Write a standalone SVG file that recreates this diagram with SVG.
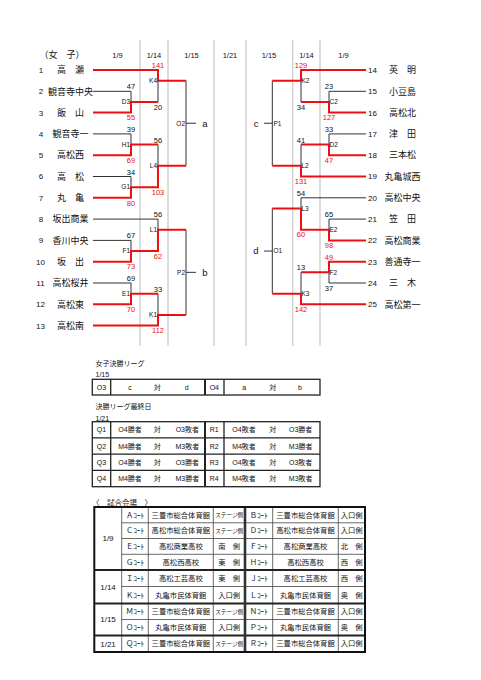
<svg xmlns="http://www.w3.org/2000/svg" width="481" height="680" viewBox="0 0 481 680">
<style>
text{font-family:'Liberation Sans','Noto Sans CJK JP',sans-serif;fill:#111}
.bk{stroke:#333;stroke-width:1;fill:none}
.rd{stroke:#ee1010;stroke-width:2;fill:none}
.gr{stroke:#d2d2d2;stroke-width:1.5}
.h{font-size:7.5px;text-anchor:middle}
.no{font-size:8px;text-anchor:middle}
.nm{font-size:9px;text-anchor:middle;font-family:'Noto Sans CJK JP',sans-serif}
.s{font-size:7.5px;text-anchor:middle}
text.r{fill:#ee1010}
.l{font-size:6.5px}
.e{text-anchor:end}
.g{font-size:9.5px;text-anchor:middle}
.tb{stroke:#222;stroke-width:1.3;fill:none}
.tn{stroke:#444;stroke-width:0.8;fill:none}
.tk{stroke:#222;stroke-width:2;fill:none}
.tt{font-size:7px;text-anchor:middle}
.tl{font-size:7px}
.vt{font-size:7.3px;text-anchor:middle;font-family:'Noto Sans CJK JP',sans-serif}
.st{font-size:5.6px;text-anchor:middle;font-family:'Noto Sans CJK JP',sans-serif}
.dt{font-size:8px;text-anchor:middle}
</style>
<rect width="481" height="680" fill="#fff"/>

<g id="grid">
<path class="gr" d="M140 40V346M168 40V346M214 40V346M246 40V346M292.7 40V346M320 40V346"/>
</g>

<g id="header">
<text x="62" y="58.2" style="font-size:9px;text-anchor:middle;font-family:'Noto Sans CJK JP',sans-serif">（女　子）</text>
<text class="h" x="117.5" y="57.7">1/9</text>
<text class="h" x="154" y="57.7">1/14</text>
<text class="h" x="191.5" y="57.7">1/15</text>
<text class="h" x="230" y="57.7">1/21</text>
<text class="h" x="269" y="57.7">1/15</text>
<text class="h" x="306.5" y="57.7">1/14</text>
<text class="h" x="343.5" y="57.7">1/9</text>
</g>

<g id="connectors">
<path class="bk" d="M93 91.3H131M93 133.9H131M93 176.5H131M93 219.1H158M93 240.4H131M93 283H131
M131 91.3V101.95M131 133.9V144.55M131 176.5V187.15M131 240.4V251.05M131 283V293.65
M158 80.65V101.95M158 144.55V165.85M158 219.1V229.75M158 293.65V314.95
M186 80.65V165.85M186 229.75V314.95M186 123.25H196M186 272.35H196"/>
<path class="bk" d="M366 91.3H329M366 133.9H329M366 197.8H301M366 219.1H329M366 283H329
M329 91.3V101.95M329 133.9V144.55M329 219.1V229.75M329 272.35V283
M301 80.65V101.95M301 144.55V165.85M301 197.8V208.45M301 272.35V293.65
M272.3 80.65V165.85M272.3 208.45V293.65M264 123.25H272.3M264 251.05H272.3"/>
<path class="rd" d="M93 70H158V80.65H186M93 112.6H131V101.95H158M93 155.2H131V144.55H158M93 197.8H131V187.15H158V165.85H186M93 261.7H131V251.05H158V229.75H186M93 304.3H131V293.65H158M93 325.6H158V314.95H186"/>
<path class="rd" d="M366 70H301V80.65H272.3M366 112.6H329V101.95H301M366 155.2H329V144.55H301M366 176.5H301V165.85H272.3M366 240.4H329V229.75H301V208.45H272.3M366 261.7H329V272.35H301M366 304.3H301V293.65H272.3"/>
</g>

<g id="team1"><text class="no" x="41" y="72.9">1</text><text class="nm" x="70.5" y="73.2">高　瀬</text></g>
<g id="team2"><text class="no" x="41" y="94.2">2</text><text class="nm" x="70.5" y="94.5">観音寺中央</text></g>
<g id="team3"><text class="no" x="41" y="115.5">3</text><text class="nm" x="70.5" y="115.8">飯　山</text></g>
<g id="team4"><text class="no" x="41" y="136.8">4</text><text class="nm" x="70.5" y="137.1">観音寺一</text></g>
<g id="team5"><text class="no" x="41" y="158.1">5</text><text class="nm" x="70.5" y="158.4">高松西</text></g>
<g id="team6"><text class="no" x="41" y="179.4">6</text><text class="nm" x="70.5" y="179.7">高　松</text></g>
<g id="team7"><text class="no" x="41" y="200.7">7</text><text class="nm" x="70.5" y="201">丸　亀</text></g>
<g id="team8"><text class="no" x="41" y="222">8</text><text class="nm" x="70.5" y="222.3">坂出商業</text></g>
<g id="team9"><text class="no" x="41" y="243.3">9</text><text class="nm" x="70.5" y="243.6">香川中央</text></g>
<g id="team10"><text class="no" x="40.5" y="264.6">10</text><text class="nm" x="70.5" y="264.9">坂　出</text></g>
<g id="team11"><text class="no" x="40.5" y="285.9">11</text><text class="nm" x="70.5" y="286.2">高松桜井</text></g>
<g id="team12"><text class="no" x="40.5" y="307.2">12</text><text class="nm" x="70.5" y="307.5">高松東</text></g>
<g id="team13"><text class="no" x="40.5" y="328.5">13</text><text class="nm" x="70.5" y="328.8">高松南</text></g>

<g id="team14"><text class="no" x="372.5" y="72.9">14</text><text class="nm" x="402.5" y="73.2">英　明</text></g>
<g id="team15"><text class="no" x="372.5" y="94.2">15</text><text class="nm" x="402.5" y="94.5">小豆島</text></g>
<g id="team16"><text class="no" x="372.5" y="115.5">16</text><text class="nm" x="402.5" y="115.8">高松北</text></g>
<g id="team17"><text class="no" x="372.5" y="136.8">17</text><text class="nm" x="402.5" y="137.1">津　田</text></g>
<g id="team18"><text class="no" x="372.5" y="158.1">18</text><text class="nm" x="402.5" y="158.4">三本松</text></g>
<g id="team19"><text class="no" x="372.5" y="179.4">19</text><text class="nm" x="402.5" y="179.7">丸亀城西</text></g>
<g id="team20"><text class="no" x="372.5" y="200.7">20</text><text class="nm" x="402.5" y="201">高松中央</text></g>
<g id="team21"><text class="no" x="372.5" y="222">21</text><text class="nm" x="402.5" y="222.3">笠　田</text></g>
<g id="team22"><text class="no" x="372.5" y="243.3">22</text><text class="nm" x="402.5" y="243.6">高松商業</text></g>
<g id="team23"><text class="no" x="372.5" y="264.6">23</text><text class="nm" x="402.5" y="264.9">善通寺一</text></g>
<g id="team24"><text class="no" x="372.5" y="285.9">24</text><text class="nm" x="402.5" y="286.2">三　木</text></g>
<g id="team25"><text class="no" x="372.5" y="307.2">25</text><text class="nm" x="402.5" y="307.5">高松第一</text></g>

<g id="D3"><text class="l e" x="130" y="104.25">D3</text><text class="s" x="131" y="89.3">47</text><text class="s r" x="131" y="120.3">55</text></g>
<g id="H1"><text class="l e" x="130" y="146.85">H1</text><text class="s" x="131" y="131.9">39</text><text class="s r" x="131" y="162.9">69</text></g>
<g id="G1"><text class="l e" x="130" y="189.45">G1</text><text class="s" x="131" y="174.5">34</text><text class="s r" x="131" y="205.5">80</text></g>
<g id="F1"><text class="l e" x="130" y="253.35">F1</text><text class="s" x="131" y="238.4">67</text><text class="s r" x="131" y="269.4">73</text></g>
<g id="E1"><text class="l e" x="130" y="295.95">E1</text><text class="s" x="131" y="281">69</text><text class="s r" x="131" y="312">70</text></g>
<g id="K4"><text class="l e" x="157" y="82.95">K4</text><text class="s r" x="158" y="68">141</text><text class="s" x="158" y="109.65">20</text></g>
<g id="L4"><text class="l e" x="157" y="168.15">L4</text><text class="s" x="158" y="142.55">56</text><text class="s r" x="158" y="194.85">103</text></g>
<g id="L1"><text class="l e" x="157" y="232.05">L1</text><text class="s" x="158" y="217.1">56</text><text class="s r" x="158" y="258.75">62</text></g>
<g id="K1"><text class="l e" x="157" y="317.25">K1</text><text class="s" x="158" y="291.65">33</text><text class="s r" x="158" y="333.3">112</text></g>
<g id="O2"><text class="l e" x="185" y="125.55">O2</text><text class="g" x="205" y="126.5">a</text></g>
<g id="P2"><text class="l e" x="185" y="274.65">P2</text><text class="g" x="205" y="275.6">b</text></g>

<g id="C2"><text class="l" x="329.5" y="104.25">C2</text><text class="s" x="329" y="89.3">23</text><text class="s r" x="329" y="120.3">127</text></g>
<g id="D2"><text class="l" x="329.5" y="146.85">D2</text><text class="s" x="329" y="131.9">33</text><text class="s r" x="329" y="162.9">47</text></g>
<g id="E2"><text class="l" x="329.5" y="232.05">E2</text><text class="s" x="329" y="217.1">65</text><text class="s r" x="329" y="248.1">98</text></g>
<g id="F2"><text class="l" x="329.5" y="274.65">F2</text><text class="s r" x="329" y="259.7">49</text><text class="s" x="329" y="290.7">37</text></g>
<g id="K2"><text class="l" x="301.5" y="82.95">K2</text><text class="s r" x="301" y="68">129</text><text class="s" x="301" y="109.65">34</text></g>
<g id="L2"><text class="l" x="301.5" y="168.15">L2</text><text class="s" x="301" y="142.55">41</text><text class="s r" x="301" y="184.2">131</text></g>
<g id="L3"><text class="l" x="301.5" y="210.75">L3</text><text class="s" x="301" y="195.8">54</text><text class="s r" x="301" y="237.45">60</text></g>
<g id="K3"><text class="l" x="301.5" y="295.95">K3</text><text class="s" x="301" y="270.35">13</text><text class="s r" x="301" y="312">142</text></g>
<g id="P1"><text class="l" x="273.5" y="125.55">P1</text><text class="g" x="256" y="126.5">c</text></g>
<g id="O1"><text class="l" x="273.5" y="253.35">O1</text><text class="g" x="256" y="254.3">d</text></g>

<g id="league">
<text class="tl" x="95.5" y="366">女子決勝リーグ</text>
<text class="tl" x="95.5" y="376.5">1/15</text>
<rect class="tb" x="92.3" y="379.3" width="227.7" height="15.7"/>
<path class="tb" d="M110.7 379.3V395M224 379.3V395"/>
<path class="tk" d="M205 379.3V395"/>
<text class="tt" x="101.5" y="389.7">O3</text><text class="tt" x="130" y="389.7">c</text><text class="tt" x="157.3" y="389.7">対</text><text class="tt" x="186.7" y="389.7">d</text>
<text class="tt" x="214.3" y="389.7">O4</text><text class="tt" x="244.3" y="389.7">a</text><text class="tt" x="272.7" y="389.7">対</text><text class="tt" x="300" y="389.7">b</text>
</g>

<g id="final-day">
<text class="tl" x="95.5" y="408.7">決勝リーグ最終日</text>
<text class="tl" x="95.5" y="420.5">1/21</text>
<rect class="tb" x="92.3" y="421.7" width="227.7" height="65"/>
<path class="tb" d="M110.7 421.7V486.7M224 421.7V486.7M92.3 437.95H320M92.3 454.2H320M92.3 470.45H320"/>
<path class="tk" d="M205 421.7V486.7"/>
<text class="tt" x="101.5" y="432.3">Q1</text><text class="tt" x="130" y="432.3">O4勝者</text><text class="tt" x="157.3" y="432.3">対</text><text class="tt" x="187.3" y="432.3">O3敗者</text>
<text class="tt" x="214.3" y="432.3">R1</text><text class="tt" x="244" y="432.3">O4敗者</text><text class="tt" x="272.7" y="432.3">対</text><text class="tt" x="300.7" y="432.3">O3勝者</text>
<text class="tt" x="101.5" y="448.6">Q2</text><text class="tt" x="130" y="448.6">M4勝者</text><text class="tt" x="157.3" y="448.6">対</text><text class="tt" x="187.3" y="448.6">M3敗者</text>
<text class="tt" x="214.3" y="448.6">R2</text><text class="tt" x="244" y="448.6">M4敗者</text><text class="tt" x="272.7" y="448.6">対</text><text class="tt" x="300.7" y="448.6">M3勝者</text>
<text class="tt" x="101.5" y="464.8">Q3</text><text class="tt" x="130" y="464.8">O4勝者</text><text class="tt" x="157.3" y="464.8">対</text><text class="tt" x="187.3" y="464.8">O3勝者</text>
<text class="tt" x="214.3" y="464.8">R3</text><text class="tt" x="244" y="464.8">O4敗者</text><text class="tt" x="272.7" y="464.8">対</text><text class="tt" x="300.7" y="464.8">O3敗者</text>
<text class="tt" x="101.5" y="481.1">Q4</text><text class="tt" x="130" y="481.1">M4勝者</text><text class="tt" x="157.3" y="481.1">対</text><text class="tt" x="187.3" y="481.1">M3勝者</text>
<text class="tt" x="214.3" y="481.1">R4</text><text class="tt" x="244" y="481.1">M4敗者</text><text class="tt" x="272.7" y="481.1">対</text><text class="tt" x="300.7" y="481.1">M3敗者</text>
</g>

<g id="venues">
<text x="92" y="505.5" style="font-size:7.5px;font-family:'Noto Sans CJK JP',sans-serif">〈　試合会場　〉</text>
<path class="tn" d="M121.7 507V652M148.3 507V652M213.3 507V652M272.7 507V652M338.3 507V652
M121.7 522.8H365M121.7 538.5H365M121.7 554.3H365M121.7 586.5H365M121.7 619.5H365"/>
<path class="tk" d="M94.3 570H365M94.3 603.5H365M94.3 635.5H365"/>
<path d="M245 507V652" stroke="#333" stroke-width="2.6" fill="none"/>
<rect x="94.3" y="507" width="270.7" height="145" fill="none" stroke="#111" stroke-width="2"/>
<text class="dt" x="108" y="541.3">1/9</text>
<text class="dt" x="108" y="589.6">1/14</text>
<text class="dt" x="108" y="622.3">1/15</text>
<text class="dt" x="108" y="646.6">1/21</text>

<text class="vt" x="135" y="517.5">Ａｺｰﾄ</text><text class="vt" x="180.8" y="517.5">三豊市総合体育館</text><text class="st" x="229.2" y="517">ステージ側</text>
<text class="vt" x="258.8" y="517.5">Ｂｺｰﾄ</text><text class="vt" x="305.5" y="517.5">三豊市総合体育館</text><text class="vt" x="351.7" y="517.5">入口側</text>

<text class="vt" x="135" y="533.25">Ｃｺｰﾄ</text><text class="vt" x="180.8" y="533.25">高松市総合体育館</text><text class="st" x="229.2" y="532.7">ステージ側</text>
<text class="vt" x="258.8" y="533.25">Ｄｺｰﾄ</text><text class="vt" x="305.5" y="533.25">高松市総合体育館</text><text class="vt" x="351.7" y="533.25">入口側</text>

<text class="vt" x="135" y="549">Ｅｺｰﾄ</text><text class="vt" x="180.8" y="549">高松商業高校</text><text class="vt" x="229.2" y="549">南　側</text>
<text class="vt" x="258.8" y="549">Ｆｺｰﾄ</text><text class="vt" x="305.5" y="549">高松商業高校</text><text class="vt" x="351.7" y="549">北　側</text>

<text class="vt" x="135" y="564.75">Ｇｺｰﾄ</text><text class="vt" x="180.8" y="564.75">高松西高校</text><text class="vt" x="229.2" y="564.75">東　側</text>
<text class="vt" x="258.8" y="564.75">Ｈｺｰﾄ</text><text class="vt" x="305.5" y="564.75">高松西高校</text><text class="vt" x="351.7" y="564.75">西　側</text>

<text class="vt" x="135" y="580.85">Ｉｺｰﾄ</text><text class="vt" x="180.8" y="580.85">高松工芸高校</text><text class="vt" x="229.2" y="580.85">東　側</text>
<text class="vt" x="258.8" y="580.85">Ｊｺｰﾄ</text><text class="vt" x="305.5" y="580.85">高松工芸高校</text><text class="vt" x="351.7" y="580.85">西　側</text>

<text class="vt" x="135" y="597.6">Ｋｺｰﾄ</text><text class="vt" x="180.8" y="597.6">丸亀市民体育館</text><text class="vt" x="229.2" y="597.6">入口側</text>
<text class="vt" x="258.8" y="597.6">Ｌｺｰﾄ</text><text class="vt" x="305.5" y="597.6">丸亀市民体育館</text><text class="vt" x="351.7" y="597.6">奥　側</text>

<text class="vt" x="135" y="614.1">Ｍｺｰﾄ</text><text class="vt" x="180.8" y="614.1">三豊市総合体育館</text><text class="st" x="229.2" y="613.6">ステージ側</text>
<text class="vt" x="258.8" y="614.1">Ｎｺｰﾄ</text><text class="vt" x="305.5" y="614.1">三豊市総合体育館</text><text class="vt" x="351.7" y="614.1">入口側</text>

<text class="vt" x="135" y="630.1">Ｏｺｰﾄ</text><text class="vt" x="180.8" y="630.1">丸亀市民体育館</text><text class="vt" x="229.2" y="630.1">入口側</text>
<text class="vt" x="258.8" y="630.1">Ｐｺｰﾄ</text><text class="vt" x="305.5" y="630.1">丸亀市民体育館</text><text class="vt" x="351.7" y="630.1">奥　側</text>

<text class="vt" x="135" y="646.35">Ｑｺｰﾄ</text><text class="vt" x="180.8" y="646.35">三豊市総合体育館</text><text class="st" x="229.2" y="645.8">ステージ側</text>
<text class="vt" x="258.8" y="646.35">Ｒｺｰﾄ</text><text class="vt" x="305.5" y="646.35">三豊市総合体育館</text><text class="vt" x="351.7" y="646.35">入口側</text>
</g>
</svg>
